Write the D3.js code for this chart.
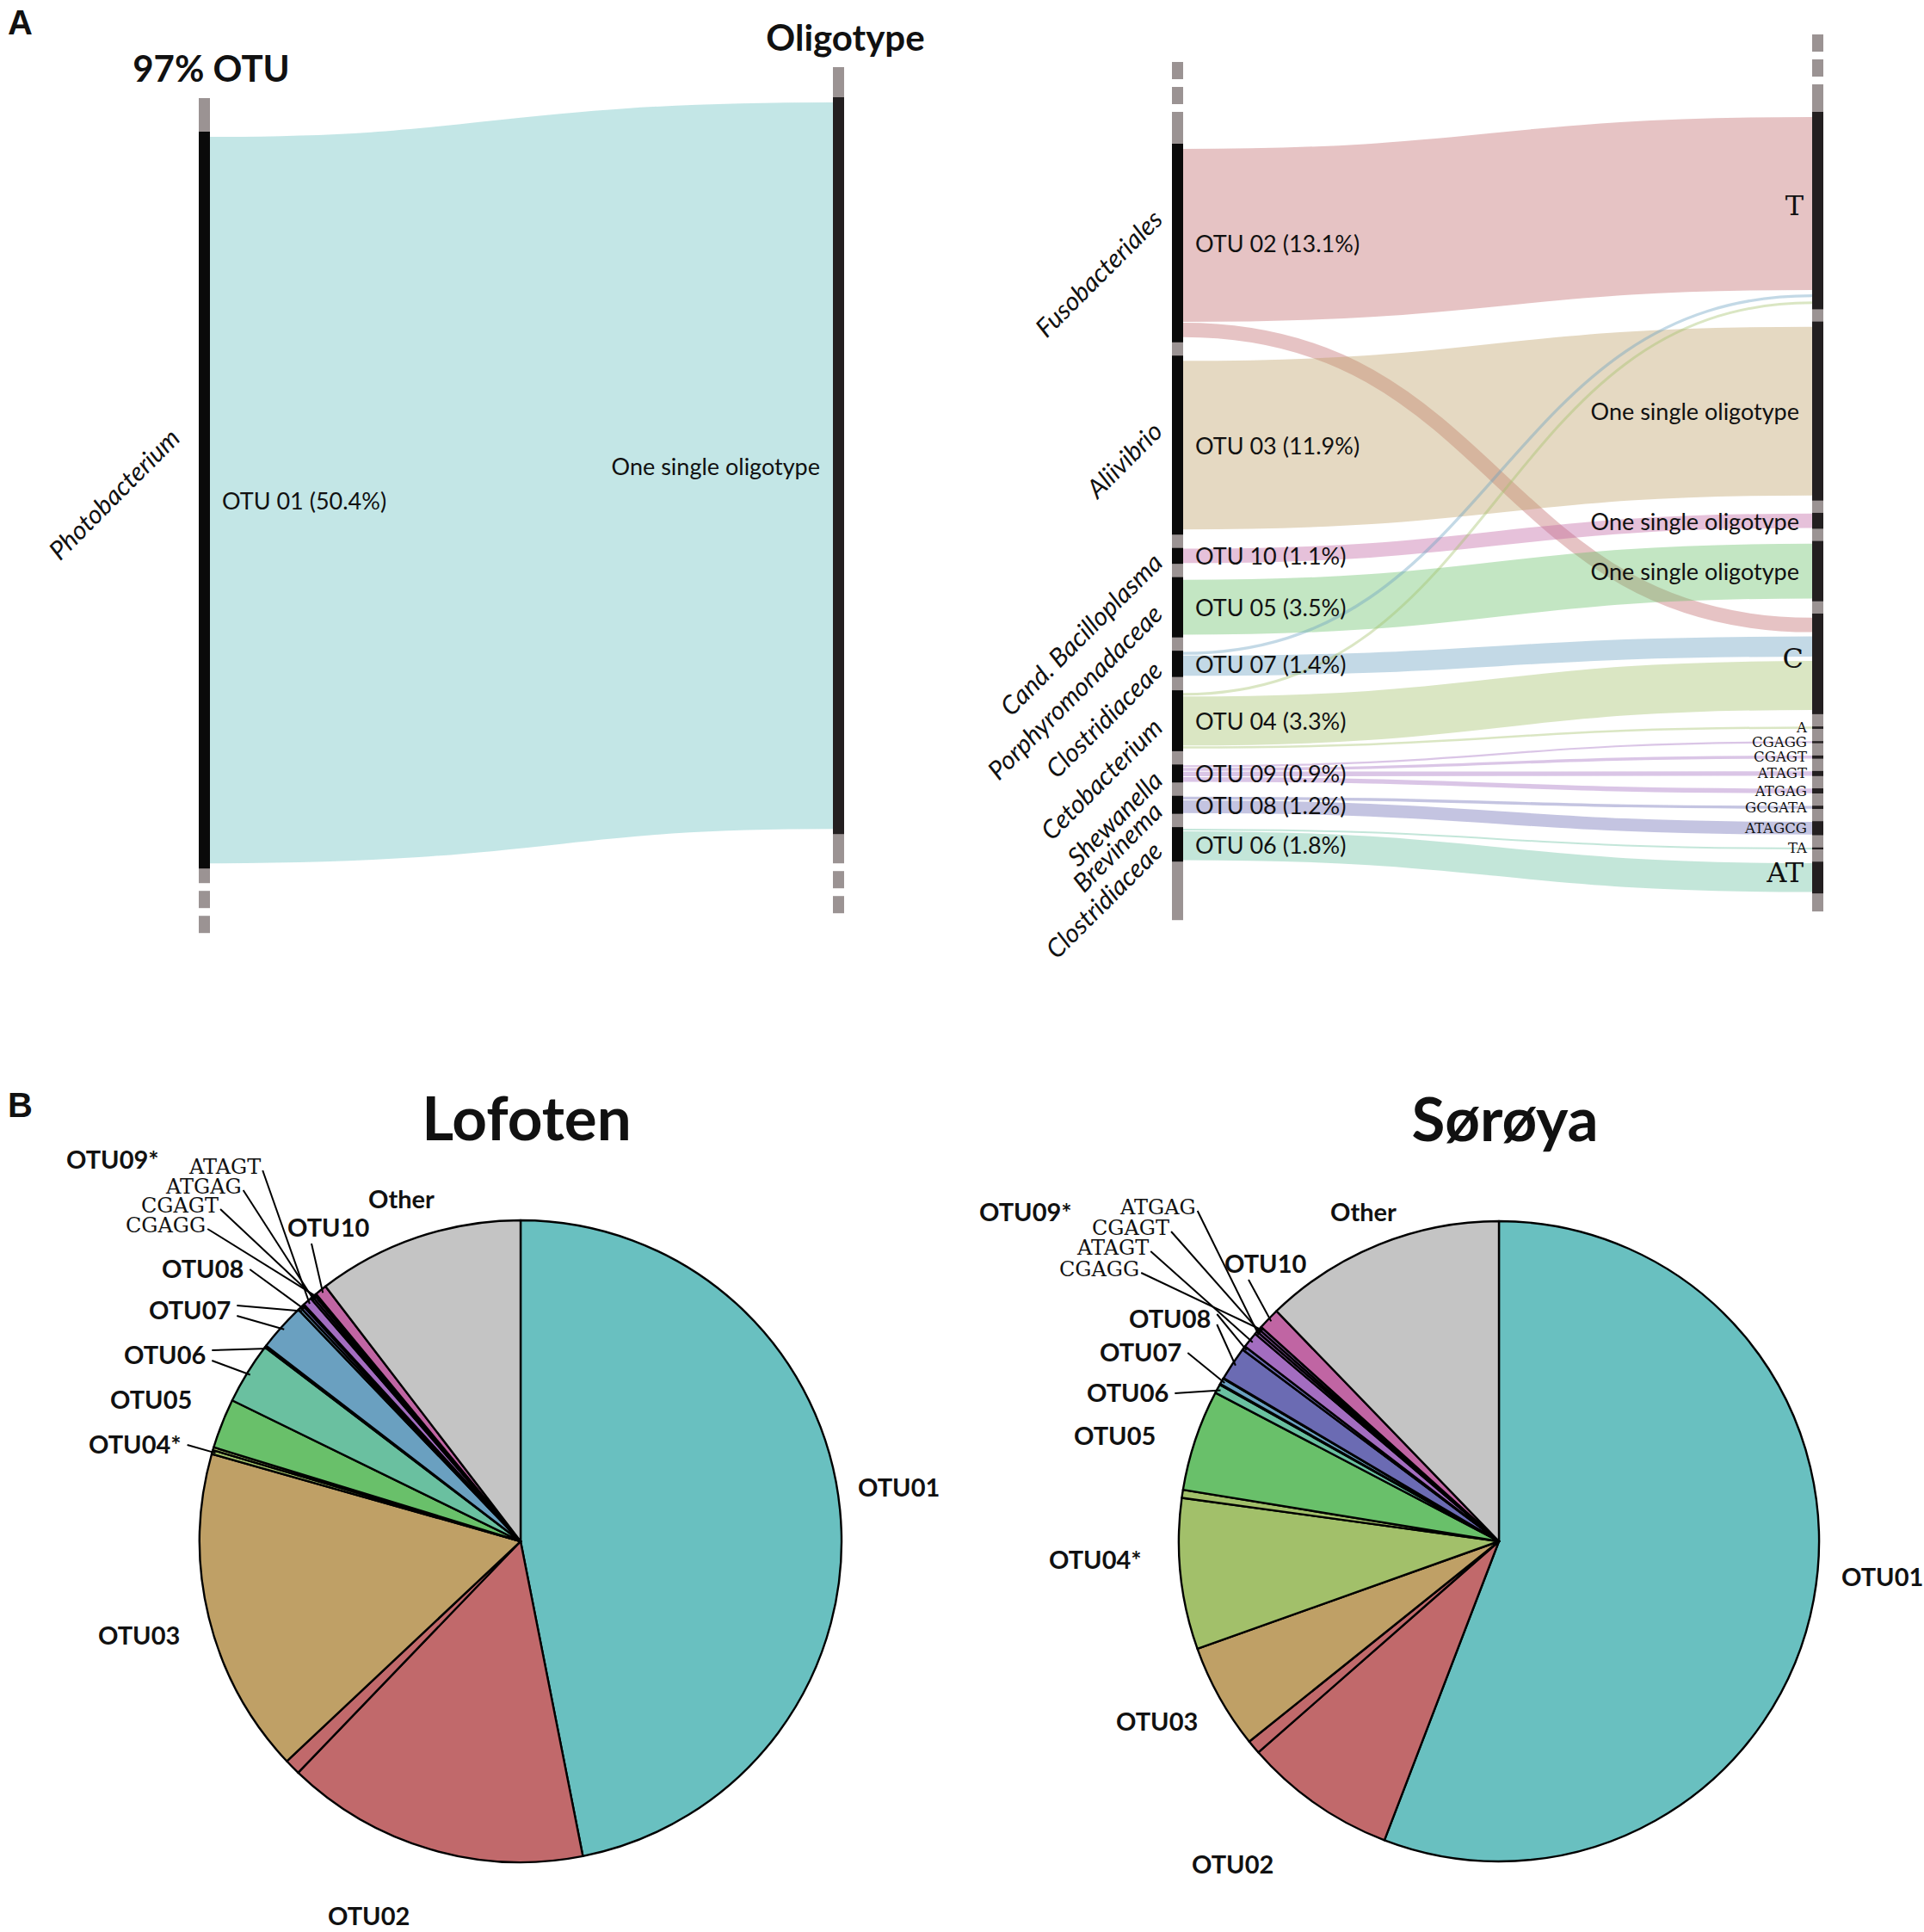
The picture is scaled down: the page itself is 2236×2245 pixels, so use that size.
<!DOCTYPE html>
<html>
<head>
<meta charset="utf-8">
<script src="https://cdn.jsdelivr.net/npm/d3@7"></script>
<style>
  body { margin: 0; background: #fff; }
  svg { display: block; }
  text { font-family: Lato, "Open Sans", sans-serif; fill: #111; }
  .panel-letter { font-family: "Liberation Sans", Arial, sans-serif; font-weight: 700; font-size: 40px; }
  .col-title { font-weight: 700; font-size: 42px; }
  .otu-label, .oligo-label { font-size: 27px; }
  .taxon { font-size: 30px; font-style: italic; }
  .seq-big { font-family: "DejaVu Serif", "Courier New", serif; font-size: 32px; }
  .seq-small { font-family: "DejaVu Serif", "Courier New", serif; font-size: 16.5px; }
  .pie-title { font-weight: 700; font-size: 71px; }
  .pie-label { font-weight: 700; font-size: 29px; }
  .pie-seq { font-family: "DejaVu Serif", "Courier New", serif; font-size: 24px; }
</style>
</head>
<body>
<div id="chart"></div>
<script>
// ---------------- data ----------------

// OTU ids and the colours used for them in every panel
const otuIds = ["OTU01", "OTU02", "OTU03", "OTU04", "OTU05", "OTU06", "OTU07", "OTU08", "OTU09", "OTU10", "Other"];
const otuPalette = ["#69c0c0", "#c1696b", "#bfa066", "#a2c06a", "#69c06a", "#6ac0a0", "#6aa0c0", "#6b6bb3", "#a36dc0", "#c065a3", "#c4c4c4"];

// Panel A, left: OTU01 -> oligotypes (values in % of reads)
const a1Otus = [{ id: "OTU01", label: "OTU 01 (50.4%)", taxon: "Photobacterium" }];
const a1Oligos = [{ id: "OTU01-single", label: "One single oligotype" }];
const a1Flows = [{ source: "OTU01", target: "OTU01-single", value: 50.4 }];

// Panel A, right: remaining OTUs -> oligotypes
const a2Otus = [
  { id: "OTU02", label: "OTU 02 (13.1%)", taxon: "Fusobacteriales" },
  { id: "OTU03", label: "OTU 03 (11.9%)", taxon: "Aliivibrio" },
  { id: "OTU10", label: "OTU 10 (1.1%)", taxon: "Cand. Bacilloplasma" },
  { id: "OTU05", label: "OTU 05 (3.5%)", taxon: "Porphyromonadaceae" },
  { id: "OTU07", label: "OTU 07 (1.4%)", taxon: "Clostridiaceae" },
  { id: "OTU04", label: "OTU 04 (3.3%)", taxon: "Cetobacterium" },
  { id: "OTU09", label: "OTU 09 (0.9%)", taxon: "Shewanella" },
  { id: "OTU08", label: "OTU 08 (1.2%)", taxon: "Brevinema" },
  { id: "OTU06", label: "OTU 06 (1.8%)", taxon: "Clostridiaceae" },
];
const a2Oligos = [
  { id: "T", label: "T" },
  { id: "OTU03-single", label: "One single oligotype" },
  { id: "OTU10-single", label: "One single oligotype" },
  { id: "OTU05-single", label: "One single oligotype" },
  { id: "C", label: "C" },
  { id: "A", label: "A" },
  { id: "CGAGG", label: "CGAGG" },
  { id: "CGAGT", label: "CGAGT" },
  { id: "ATAGT", label: "ATAGT" },
  { id: "ATGAG", label: "ATGAG" },
  { id: "GCGATA", label: "GCGATA" },
  { id: "ATAGCG", label: "ATAGCG" },
  { id: "TA", label: "TA" },
  { id: "AT", label: "AT" },
];
const a2Flows = [
  { source: "OTU02", target: "T", value: 12.0 },
  { source: "OTU02", target: "C", value: 1.0 },
  { source: "OTU03", target: "OTU03-single", value: 11.7 },
  { source: "OTU10", target: "OTU10-single", value: 1.0 },
  { source: "OTU05", target: "OTU05-single", value: 3.8 },
  { source: "OTU07", target: "T", value: 0.2 },
  { source: "OTU07", target: "C", value: 1.4 },
  { source: "OTU04", target: "T", value: 0.18 },
  { source: "OTU04", target: "C", value: 3.4 },
  { source: "OTU04", target: "A", value: 0.15 },
  { source: "OTU09", target: "CGAGG", value: 0.13 },
  { source: "OTU09", target: "CGAGT", value: 0.2 },
  { source: "OTU09", target: "ATAGT", value: 0.32 },
  { source: "OTU09", target: "ATGAG", value: 0.32 },
  { source: "OTU08", target: "GCGATA", value: 0.2 },
  { source: "OTU08", target: "ATAGCG", value: 0.88 },
  { source: "OTU06", target: "TA", value: 0.12 },
  { source: "OTU06", target: "AT", value: 2.0 },
];

// Panel B: oligotype shares per site (% of reads, clockwise from 12 o'clock)
const lofotenSlices = [
  { otu: "OTU01", oligo: "single", value: 46.9 },
  { otu: "OTU02", oligo: "T", value: 15.3 },
  { otu: "OTU02", oligo: "C", value: 0.8 },
  { otu: "OTU03", oligo: "single", value: 16.4 },
  { otu: "OTU04", oligo: "C", value: 0.2 },
  { otu: "OTU04", oligo: "T", value: 0.15 },
  { otu: "OTU05", oligo: "single", value: 2.5 },
  { otu: "OTU06", oligo: "AT", value: 3.1 },
  { otu: "OTU06", oligo: "TA", value: 0.1 },
  { otu: "OTU07", oligo: "C", value: 2.4 },
  { otu: "OTU07", oligo: "T", value: 0.15 },
  { otu: "OTU08", oligo: "ATAGCG", value: 0.15 },
  { otu: "OTU08", oligo: "GCGATA", value: 0.08 },
  { otu: "OTU09", oligo: "ATAGT", value: 0.45 },
  { otu: "OTU09", oligo: "ATGAG", value: 0.12 },
  { otu: "OTU09", oligo: "CGAGT", value: 0.12 },
  { otu: "OTU09", oligo: "CGAGG", value: 0.1 },
  { otu: "OTU10", oligo: "single", value: 0.6 },
  { otu: "Other", oligo: "", value: 10.4 },
];
const soroyaSlices = [
  { otu: "OTU01", oligo: "single", value: 55.7 },
  { otu: "OTU02", oligo: "T", value: 7.7 },
  { otu: "OTU02", oligo: "C", value: 0.7 },
  { otu: "OTU03", oligo: "single", value: 5.3 },
  { otu: "OTU04", oligo: "C", value: 7.6 },
  { otu: "OTU04", oligo: "T", value: 0.4 },
  { otu: "OTU05", oligo: "single", value: 5.1 },
  { otu: "OTU06", oligo: "AT", value: 0.45 },
  { otu: "OTU06", oligo: "TA", value: 0.05 },
  { otu: "OTU07", oligo: "C", value: 0.3 },
  { otu: "OTU07", oligo: "T", value: 0.03 },
  { otu: "OTU08", oligo: "ATAGCG", value: 1.7 },
  { otu: "OTU08", oligo: "GCGATA", value: 0.2 },
  { otu: "OTU09", oligo: "ATAGT", value: 0.8 },
  { otu: "OTU09", oligo: "ATGAG", value: 0.15 },
  { otu: "OTU09", oligo: "CGAGT", value: 0.15 },
  { otu: "OTU09", oligo: "CGAGG", value: 0.15 },
  { otu: "OTU10", oligo: "single", value: 1.1 },
  { otu: "Other", oligo: "", value: 12.2 },
];

// ---------------- layout (not data) ----------------

// label placement relative to the pie centre, leader lines go to the named slices
const lofotenLabelLayout = [
  { text: "OTU09*", dx: -528, dy: -433 },
  { text: "ATAGT", dx: -385, dy: -427, mono: true, to: ["OTU09:ATAGT"] },
  { text: "ATGAG", dx: -412, dy: -404, mono: true, to: ["OTU09:ATGAG"] },
  { text: "CGAGT", dx: -441, dy: -382, mono: true, to: ["OTU09:CGAGT"] },
  { text: "CGAGG", dx: -459, dy: -359, mono: true, to: ["OTU09:CGAGG"] },
  { text: "OTU10", dx: -271, dy: -354, to: ["OTU10:single"], from: "below" },
  { text: "Other", dx: -177, dy: -387 },
  { text: "OTU08", dx: -417, dy: -306, to: ["OTU08:ATAGCG"] },
  { text: "OTU07", dx: -432, dy: -258, to: ["OTU07:T", "OTU07:C"] },
  { text: "OTU06", dx: -461, dy: -206, to: ["OTU06:TA", "OTU06:AT"] },
  { text: "OTU05", dx: -477, dy: -154 },
  { text: "OTU04*", dx: -502, dy: -102, to: ["OTU04:C"] },
  { text: "OTU03", dx: -491, dy: 120 },
  { text: "OTU02", dx: -224, dy: 446 },
  { text: "OTU01", dx: 392, dy: -52 },
];
const soroyaLabelLayout = [
  { text: "OTU09*", dx: -604, dy: -372 },
  { text: "ATGAG", dx: -440, dy: -380, mono: true, to: ["OTU09:ATGAG"] },
  { text: "CGAGT", dx: -473, dy: -356, mono: true, to: ["OTU09:CGAGT"] },
  { text: "ATAGT", dx: -490, dy: -333, mono: true, to: ["OTU09:ATAGT"] },
  { text: "CGAGG", dx: -511, dy: -308, mono: true, to: ["OTU09:CGAGG"] },
  { text: "OTU10", dx: -319, dy: -312, to: ["OTU10:single"], from: "below" },
  { text: "Other", dx: -196, dy: -372 },
  { text: "OTU08", dx: -430, dy: -248, to: ["OTU08:GCGATA", "OTU08:ATAGCG"] },
  { text: "OTU07", dx: -464, dy: -209, to: ["OTU07:C"] },
  { text: "OTU06", dx: -479, dy: -162, to: ["OTU06:AT"] },
  { text: "OTU05", dx: -494, dy: -112 },
  { text: "OTU04*", dx: -523, dy: 32 },
  { text: "OTU03", dx: -445, dy: 220 },
  { text: "OTU02", dx: -357, dy: 386 },
  { text: "OTU01", dx: 398, dy: 52 },
];

const pxPerPercent = 16.75;
const color = d3.scaleOrdinal().domain(otuIds).range(otuPalette);

const svg = d3.select("#chart").append("svg")
  .attr("width", 2236)
  .attr("height", 2245);

class OligoSankey {
  constructor(_config, _otus, _oligos, _flows) {
    this.config = {
      parent: _config.parent,
      left: _config.left,
      right: _config.right,
      barWidth: 13,
      srcGap: 1,
      tgtGap: 5,
      dash: 20,
      dashGap: 9,
      taxonX: _config.taxonX,
      taxonY: _config.taxonY,
      titles: _config.titles || null,
    };
    this.otus = _otus;
    this.oligos = _oligos;
    this.flows = _flows;
    this.initVis();
  }

  initVis() {
    let vis = this;
    vis.chart = vis.config.parent.append("g");
    // percent of reads -> ribbon thickness in px
    vis.y = d3.scaleLinear().domain([0, 1]).range([0, pxPerPercent]);
    vis.link = d3.linkHorizontal();
    vis.updateVis();
  }

  updateVis() {
    let vis = this;
    const byId = new Map();
    vis.leftNodes = vis.otus.map((d, i) => ({ ...d, index: i, col: vis.config.left, out: [], in: [] }));
    vis.rightNodes = vis.oligos.map((d, i) => ({ ...d, index: i, col: vis.config.right, out: [], in: [] }));
    vis.leftNodes.concat(vis.rightNodes).forEach(n => byId.set(n.id, n));

    vis.links = vis.flows.map(f => ({ ...f, s: byId.get(f.source), t: byId.get(f.target), w: vis.y(f.value) }));
    vis.links.forEach(l => { l.s.out.push(l); l.t.in.push(l); });

    vis.stack(vis.leftNodes, "out", vis.config.srcGap);
    vis.stack(vis.rightNodes, "in", vis.config.tgtGap);

    vis.leftNodes.forEach(n => {
      let y = n.y0 + n.pad;
      n.out.sort((a, b) => a.t.index - b.t.index).forEach(l => {
        l.ys = y + l.w / 2;
        y += l.w + vis.config.srcGap;
      });
    });
    vis.rightNodes.forEach(n => {
      let y = n.y0 + n.pad;
      n.in.sort((a, b) => a.s.index - b.s.index).forEach(l => {
        l.yt = y + l.w / 2;
        y += l.w + vis.config.tgtGap;
      });
    });
    vis.renderVis();
  }

  stack(nodes, key, gap) {
    let vis = this;
    const col = nodes[0].col;
    let y = col.top;
    nodes.forEach(n => {
      const flow = d3.sum(n[key], l => l.w);
      n.value = d3.sum(n[key], l => l.value);
      n.pad = Math.min(6, flow * 0.05);
      n.y0 = y;
      n.y1 = y + flow + gap * (n[key].length - 1) + 2 * n.pad;
      n.yc = (n.y0 + n.y1) / 2;
      n.x0 = col.x;
      n.x1 = col.x + vis.config.barWidth;
      y = n.y1 + col.gap;
    });
  }

  renderVis() {
    let vis = this;
    const c = vis.config;

    // grey column behind the nodes, with dashes continuing it
    [vis.leftNodes, vis.rightNodes].forEach(nodes => {
      const col = nodes[0].col;
      const top = nodes[0].y0 - col.grayAbove;
      const bottom = nodes[nodes.length - 1].y1 + col.grayBelow;
      const g = vis.chart.append("g").attr("fill", "#9b9393");
      g.append("rect").attr("x", col.x).attr("y", top).attr("width", c.barWidth).attr("height", bottom - top);
      d3.range(col.dashesAbove).forEach(i => {
        g.append("rect").attr("x", col.x).attr("width", c.barWidth).attr("height", c.dash)
          .attr("y", top - (i + 1) * (c.dash + c.dashGap));
      });
      d3.range(col.dashesBelow).forEach(i => {
        g.append("rect").attr("x", col.x).attr("width", c.barWidth).attr("height", c.dash)
          .attr("y", bottom + c.dashGap + i * (c.dash + c.dashGap));
      });
      vis.chart.append("g").selectAll("rect")
        .data(nodes)
        .join("rect")
        .attr("x", d => d.x0)
        .attr("y", d => d.y0)
        .attr("width", c.barWidth)
        .attr("height", d => Math.max(2, d.y1 - d.y0))
        .attr("fill", col.fill);

      if (c.titles) {
        vis.chart.append("text")
          .attr("class", "col-title")
          .attr("x", col.x + c.barWidth / 2 + 8)
          .attr("y", top - 19)
          .attr("text-anchor", "middle")
          .text(col === c.left ? c.titles[0] : c.titles[1]);
      }
    });

    // ribbons
    vis.chart.append("g").attr("fill", "none")
      .selectAll("path")
      .data(vis.links)
      .join("path")
      .attr("d", d => vis.link({ source: [d.s.x1, d.ys], target: [d.t.x0, d.yt] }))
      .attr("stroke", d => color(d.s.id))
      .attr("stroke-opacity", 0.4)
      .attr("stroke-width", d => d.w);

    // OTU labels and taxa
    vis.chart.append("g").selectAll("text")
      .data(vis.leftNodes)
      .join("text")
      .attr("class", "otu-label")
      .attr("x", d => d.x1 + 14)
      .attr("y", d => d.yc)
      .attr("dominant-baseline", "central")
      .text(d => d.label);

    vis.chart.append("g").selectAll("text")
      .data(vis.leftNodes)
      .join("text")
      .attr("class", "taxon")
      .attr("text-anchor", "end")
      .attr("transform", d => `translate(${d.x0 - c.taxonX},${c.taxonY(d)}) rotate(-45)`)
      .text(d => d.taxon);

    // oligotype labels
    const isSeq = d => /^[ACGT]+$/.test(d.label);
    vis.chart.append("g").selectAll("text")
      .data(vis.rightNodes)
      .join("text")
      .attr("class", d => isSeq(d) ? (d.value > 1.5 ? "seq-big" : "seq-small") : "oligo-label")
      .attr("text-anchor", "end")
      .attr("x", d => d.x0 - (isSeq(d) ? (d.value > 1.5 ? 10 : 6) : 15))
      .attr("y", d => d.yc - (isSeq(d) && d.value > 1.5 ? 6 : 0))
      .attr("dominant-baseline", "central")
      .text(d => d.label);
  }
}

class OligoPie {
  constructor(_config, _slices, _labels) {
    this.config = {
      parent: _config.parent,
      cx: _config.cx,
      cy: _config.cy,
      radius: _config.radius,
      title: _config.title,
    };
    this.slices = _slices;
    this.labels = _labels;
    this.initVis();
  }

  initVis() {
    let vis = this;
    vis.chart = vis.config.parent.append("g")
      .attr("transform", `translate(${vis.config.cx},${vis.config.cy})`);
    vis.pie = d3.pie().sort(null).value(d => d.value);
    vis.arc = d3.arc().innerRadius(0).outerRadius(vis.config.radius);
    vis.updateVis();
  }

  updateVis() {
    let vis = this;
    vis.arcs = vis.pie(vis.slices);
    vis.byKey = new Map(vis.arcs.map(a => [a.data.otu + ":" + a.data.oligo, a]));
    vis.renderVis();
  }

  renderVis() {
    let vis = this;
    const r = vis.config.radius;

    vis.chart.append("g").selectAll("path")
      .data(vis.arcs)
      .join("path")
      .attr("d", vis.arc)
      .attr("fill", d => color(d.data.otu))
      .attr("stroke", "#000")
      .attr("stroke-width", 2.4)
      .attr("stroke-linejoin", "round");

    vis.chart.append("text")
      .attr("class", "pie-title")
      .attr("x", 7)
      .attr("y", -r - 93)
      .attr("text-anchor", "middle")
      .text(vis.config.title);

    const lines = vis.chart.append("g").attr("stroke", "#000").attr("stroke-width", 2);
    vis.labels.forEach(l => {
      const t = vis.chart.append("text")
        .attr("class", l.mono ? "pie-seq" : "pie-label")
        .attr("x", l.dx)
        .attr("y", l.dy)
        .text(l.text);
      const w = t.node().getComputedTextLength();
      (l.to || []).forEach((key, i, arr) => {
        const a = vis.byKey.get(key);
        const ang = (a.startAngle + a.endAngle) / 2;
        const ex = Math.sin(ang) * (r - 4);
        const ey = -Math.cos(ang) * (r - 4);
        let sx, sy;
        if (l.from === "below") {
          sx = l.dx + 28; sy = l.dy + 8;
        } else if (l.mono) {
          sx = l.dx + w + 2; sy = l.dy - 4;
        } else {
          sx = l.dx + w + 7;
          sy = l.dy - 10 + (arr.length > 1 ? (i - 0.5) * 12 : 0);
        }
        lines.append("line").attr("x1", sx).attr("y1", sy).attr("x2", ex).attr("y2", ey);
      });
    });
  }
}

// panel letters
svg.append("text").attr("class", "panel-letter").attr("x", 9).attr("y", 40).text("A");
svg.append("text").attr("class", "panel-letter").attr("x", 9).attr("y", 1298).text("B");

new OligoSankey({
  parent: svg,
  left: { x: 231, top: 153, gap: 15, fill: "#0a0a0a", grayAbove: 39, grayBelow: 17, dashesAbove: 0, dashesBelow: 2 },
  right: { x: 968, top: 113, gap: 15, fill: "#231f20", grayAbove: 35, grayBelow: 34, dashesAbove: 0, dashesBelow: 2 },
  taxonX: 20,
  taxonY: d => d.yc - 70,
  titles: ["97% OTU", "Oligotype"],
}, a1Otus, a1Oligos, a1Flows);

new OligoSankey({
  parent: svg,
  left: { x: 1362, top: 167, gap: 15.5, fill: "#0a0a0a", grayAbove: 37, grayBelow: 68, dashesAbove: 2, dashesBelow: 0 },
  right: { x: 2106, top: 130, gap: 14.3, fill: "#231f20", grayAbove: 32, grayBelow: 21, dashesAbove: 2, dashesBelow: 0 },
  taxonX: 9,
  taxonY: d => Math.min(d.yc + 10, d.y0 + 90),
}, a2Otus, a2Oligos, a2Flows);

new OligoPie({ parent: svg, cx: 605, cy: 1791, radius: 373, title: "Lofoten" }, lofotenSlices, lofotenLabelLayout);
new OligoPie({ parent: svg, cx: 1742, cy: 1791, radius: 372, title: "Sørøya" }, soroyaSlices, soroyaLabelLayout);
</script>
</body>
</html>
